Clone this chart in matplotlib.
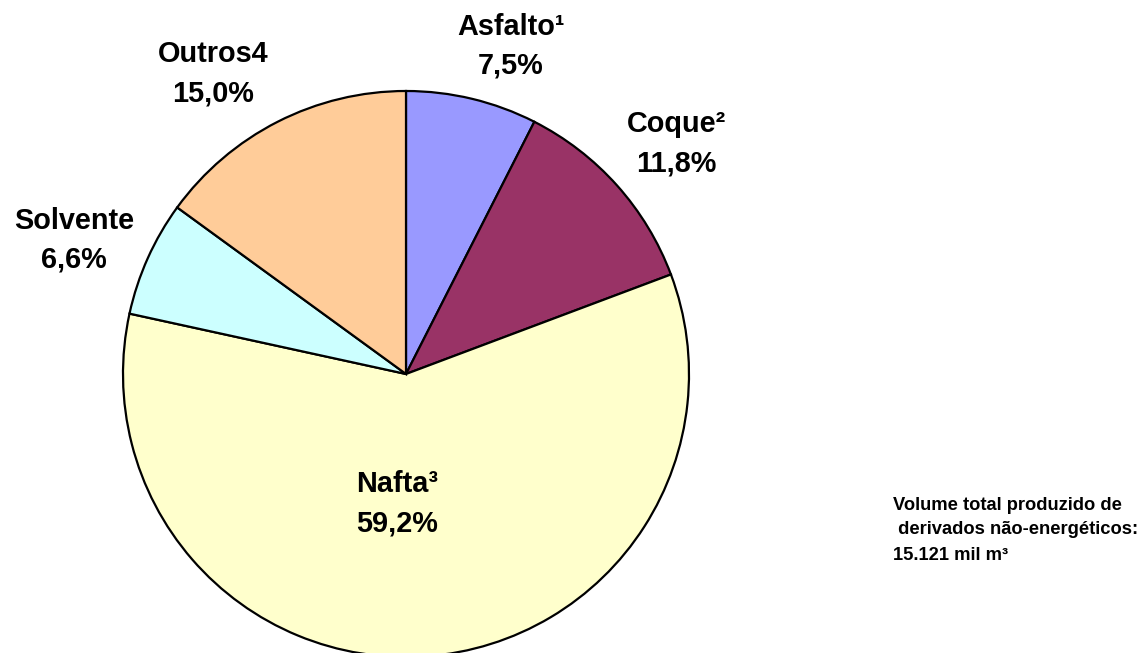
import matplotlib
matplotlib.use("Agg")
import matplotlib.pyplot as plt

plt.rcParams['font.family'] = ['Liberation Sans', 'DejaVu Sans']

produtos = ['Asfalto¹', 'Coque²', 'Nafta³', 'Solvente', 'Outros4']
shares = [7.5, 11.8, 59.2, 6.6, 15.0]
cores = ['#9999FF', '#993366', '#FFFFCC', '#CCFFFF', '#FFCC99']

# label centres (pixels from top-left of the picture)
lab_x = [511, 676, 397, 74, 213]
lab_y = [27, 124, 484, 221, 54]
gap = 39

W, H = 1142, 653
fig = plt.figure(figsize=(W / 100, H / 100), dpi=100)
ax = fig.add_axes([0, 0, 1, 1])

ax.pie(shares, colors=cores, startangle=90, counterclock=False,
       center=(406, H - 374), radius=283,
       wedgeprops=dict(edgecolor='black', linewidth=1.6))

# pie() resets the limits, so set them afterwards
ax.set_xlim(0, W)
ax.set_ylim(0, H)
ax.set_aspect('equal')
ax.axis('off')

for nome, v, x, y in zip(produtos, shares, lab_x, lab_y):
    pct = f'{v:.1f}%'.replace('.', ',')
    ax.text(x, H - y, nome, ha='center', va='center', fontsize=20.8, fontweight='bold')
    ax.text(x, H - y - gap, pct, ha='center', va='center', fontsize=20.8, fontweight='bold')

nota = ['Volume total produzido de', ' derivados não-energéticos:', '15.121 mil m³']
for i, linha in enumerate(nota):
    ax.text(893, H - 505 - 25 * i, linha, ha='left', va='center',
            fontsize=13.2, fontweight='bold')

fig.savefig('out.png', dpi=100)
